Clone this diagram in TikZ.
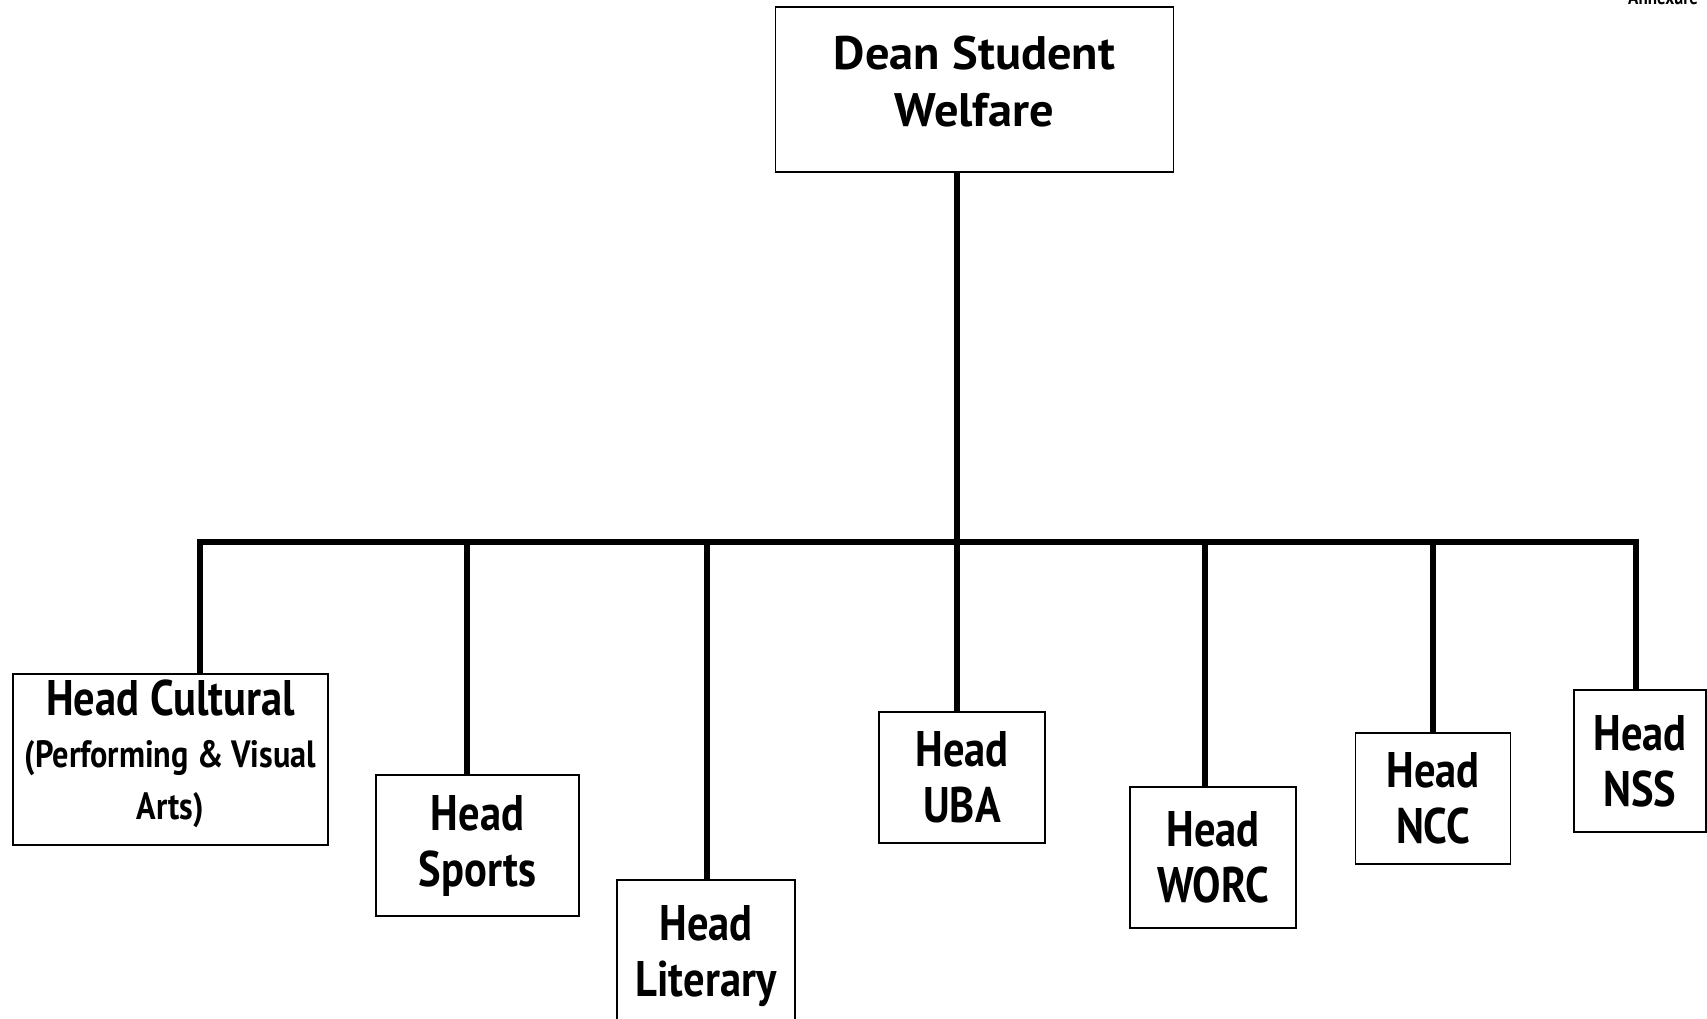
\documentclass[tikz,border=0pt]{standalone}
\usepackage{fontspec}
\setmainfont{PT Sans}[FakeStretch=0.85]
\newfontfamily\deanfont{PT Sans}[FakeStretch=1.03]
\begin{document}
\begin{tikzpicture}[x=1pt,y=-1pt,
  box/.style={draw, line width=1.6pt, inner sep=0pt, align=center,
    font=\fontsize{50}{56}\selectfont\bfseries},
  conn/.style={line width=6.5pt}]
\useasboundingbox (0,0) rectangle (1707,1019);
\clip (0,0) rectangle (1707,1019);
\fill[white] (0,0) rectangle (1707,1019);
% boxes
\node[box, minimum width=398pt, minimum height=165pt] (dean) at (974.5,89.5) {};
\node[align=center, inner sep=0pt, font=\deanfont\fontsize{47}{57}\selectfont\bfseries] (deantxt) at (974.5,82) {Dean Student\\Welfare};
\node[box, minimum width=315pt, minimum height=171pt] (cult) at (170.5,759.5) {};
\node[align=center, inner sep=0pt, font=\fontsize{50}{56}\selectfont\bfseries] (culttxt) at (170.5,753.5)
  {Head Cultural\\[-4pt]{\fontsize{38}{53}\selectfont (Performing \& Visual}\\[-4pt]{\fontsize{38}{53}\selectfont Arts)}};
\node[box, minimum width=203pt, minimum height=141pt] (sport) at (477.5,845.5) {Head\\Sports};
\node[box, minimum width=178pt, minimum height=152pt, anchor=north] (lit) at (706,879) {Head\\Literary};
\node[box, minimum width=166pt, minimum height=131pt] (uba) at (962,777.5) {Head\\UBA};
\node[box, minimum width=166pt, minimum height=141pt] (worc) at (1213,857.5) {Head\\WORC};
\node[box, minimum width=155pt, minimum height=131pt] (ncc) at (1433,798.5) {Head\\NCC};
\node[box, minimum width=132pt, minimum height=142pt] (nss) at (1640,761) {Head\\NSS};
% bus coordinates
\coordinate (b1) at (200,542);
\coordinate (b2) at (467,542);
\coordinate (b3) at (707,542);
\coordinate (b4) at (957,542);
\coordinate (b5) at (1205,542);
\coordinate (b6) at (1433,542);
\coordinate (b7) at (1636,542);
% connectors
\draw[conn] (b4 |- dean.south) -- (b4);
\draw[conn, line cap=rect] (b1) -- (b7);
\draw[conn] (b1) -- (b1 |- cult.north);
\draw[conn] (b2) -- (b2 |- sport.north);
\draw[conn] (b3) -- (b3 |- lit.north);
\draw[conn] (b4) -- (b4 |- uba.north);
\draw[conn] (b5) -- (b5 |- worc.north);
\draw[conn] (b6) -- (b6 |- ncc.north);
\draw[conn] (b7) -- (b7 |- nss.north);
% cut-off text at top right
\node[anchor=base west, font=\fontsize{20}{24}\selectfont\bfseries, inner sep=0pt] (annex) at (1628,5) {Annexure};
\end{tikzpicture}
\end{document}
